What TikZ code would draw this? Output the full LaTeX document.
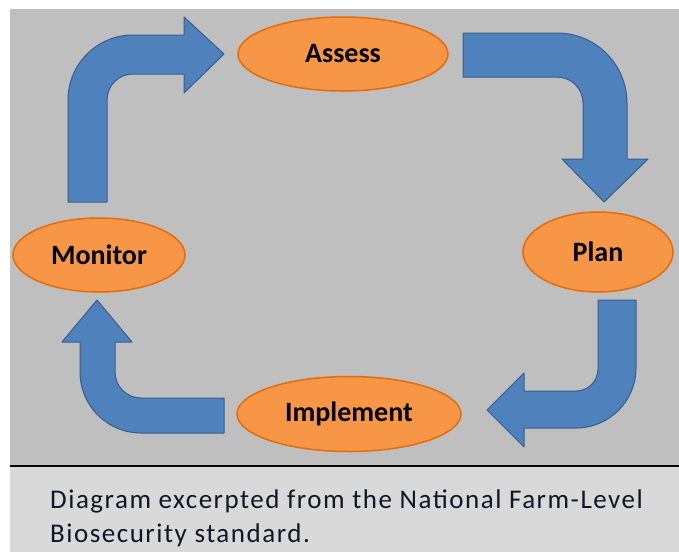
\documentclass[tikz,border=0pt]{standalone}
\usepackage{fontspec}
\setmainfont{Carlito}
\usetikzlibrary{shapes.geometric}
\definecolor{panelgray}{HTML}{BFBFBF}
\definecolor{capgray}{HTML}{D9D9D9}
\definecolor{ovfill}{HTML}{F79646}
\definecolor{ovdraw}{HTML}{E46C0A}
\definecolor{arfill}{HTML}{4F81BD}
\definecolor{ardraw}{HTML}{385D8A}
\definecolor{captext}{HTML}{141428}
\begin{document}
\begin{tikzpicture}[x=1pt,y=-1pt,
  stage/.style={ellipse, fill=ovfill, draw=ovdraw, line width=1.5pt, inner sep=0pt,
     font=\bfseries\fontsize{28}{32}\selectfont},
  blockarrow/.style={fill=arfill, draw=ardraw, line width=1pt, line join=round}]
\useasboundingbox (0,0) rectangle (679,552);
\fill[white] (0,0) rectangle (679,552);
\fill[panelgray] (10,9) rectangle (679,466);
\fill[capgray] (10,466) rectangle (679,552);
\draw[line width=1.8pt] (10,466) -- (679,466);
% stages
\node[stage, minimum width=210pt, minimum height=74pt] (assess) at (343,54) {Assess};
\node[stage, minimum width=150pt, minimum height=80pt] (plan) at (598,252) {Plan};
\node[stage, minimum width=224pt, minimum height=75pt] (implement) at (349,414) {Implement};
\node[stage, minimum width=172pt, minimum height=74pt] (monitor) at (99,255) {Monitor};
% block arrows
\draw[blockarrow] (68,202) -- (68,100) arc[start angle=180,end angle=90,radius=65pt]
  -- (184,35) -- (184,17) -- (224,54) -- (184,93) -- (184,74) -- (133,74)
  arc[start angle=90,end angle=180,radius=26pt] -- (107,202) -- cycle;
\draw[blockarrow] (463,33) -- (557,33) arc[start angle=90,end angle=0,radius=70pt]
  -- (627,159) -- (648,159) -- (604,202) -- (562,159) -- (583,159) -- (583,103)
  arc[start angle=0,end angle=90,radius=26pt] -- (463,77) -- cycle;
\draw[blockarrow] (598,300) -- (636,300) -- (636,368) arc[start angle=0,end angle=-90,radius=60pt]
  -- (524,428) -- (524,447) -- (487,410) -- (524,373) -- (524,391) -- (576,391)
  arc[start angle=-90,end angle=0,radius=22pt] -- cycle;
\draw[blockarrow] (224,398) -- (224,433) -- (141,433) arc[start angle=-90,end angle=-180,radius=61pt]
  -- (80,342) -- (62,342) -- (97,300) -- (132,342) -- (115,342) -- (115,372)
  arc[start angle=180,end angle=270,radius=26pt] -- cycle;
% caption
\node[anchor=base west, inner sep=0pt, align=left, text=captext,
  font=\fontsize{27}{34}\selectfont\addfontfeatures{LetterSpace=5.6}] (caption) at (50,542)
  {Diagram excerpted from the National Farm-Level\\Biosecurity standard.};
\end{tikzpicture}
\end{document}
